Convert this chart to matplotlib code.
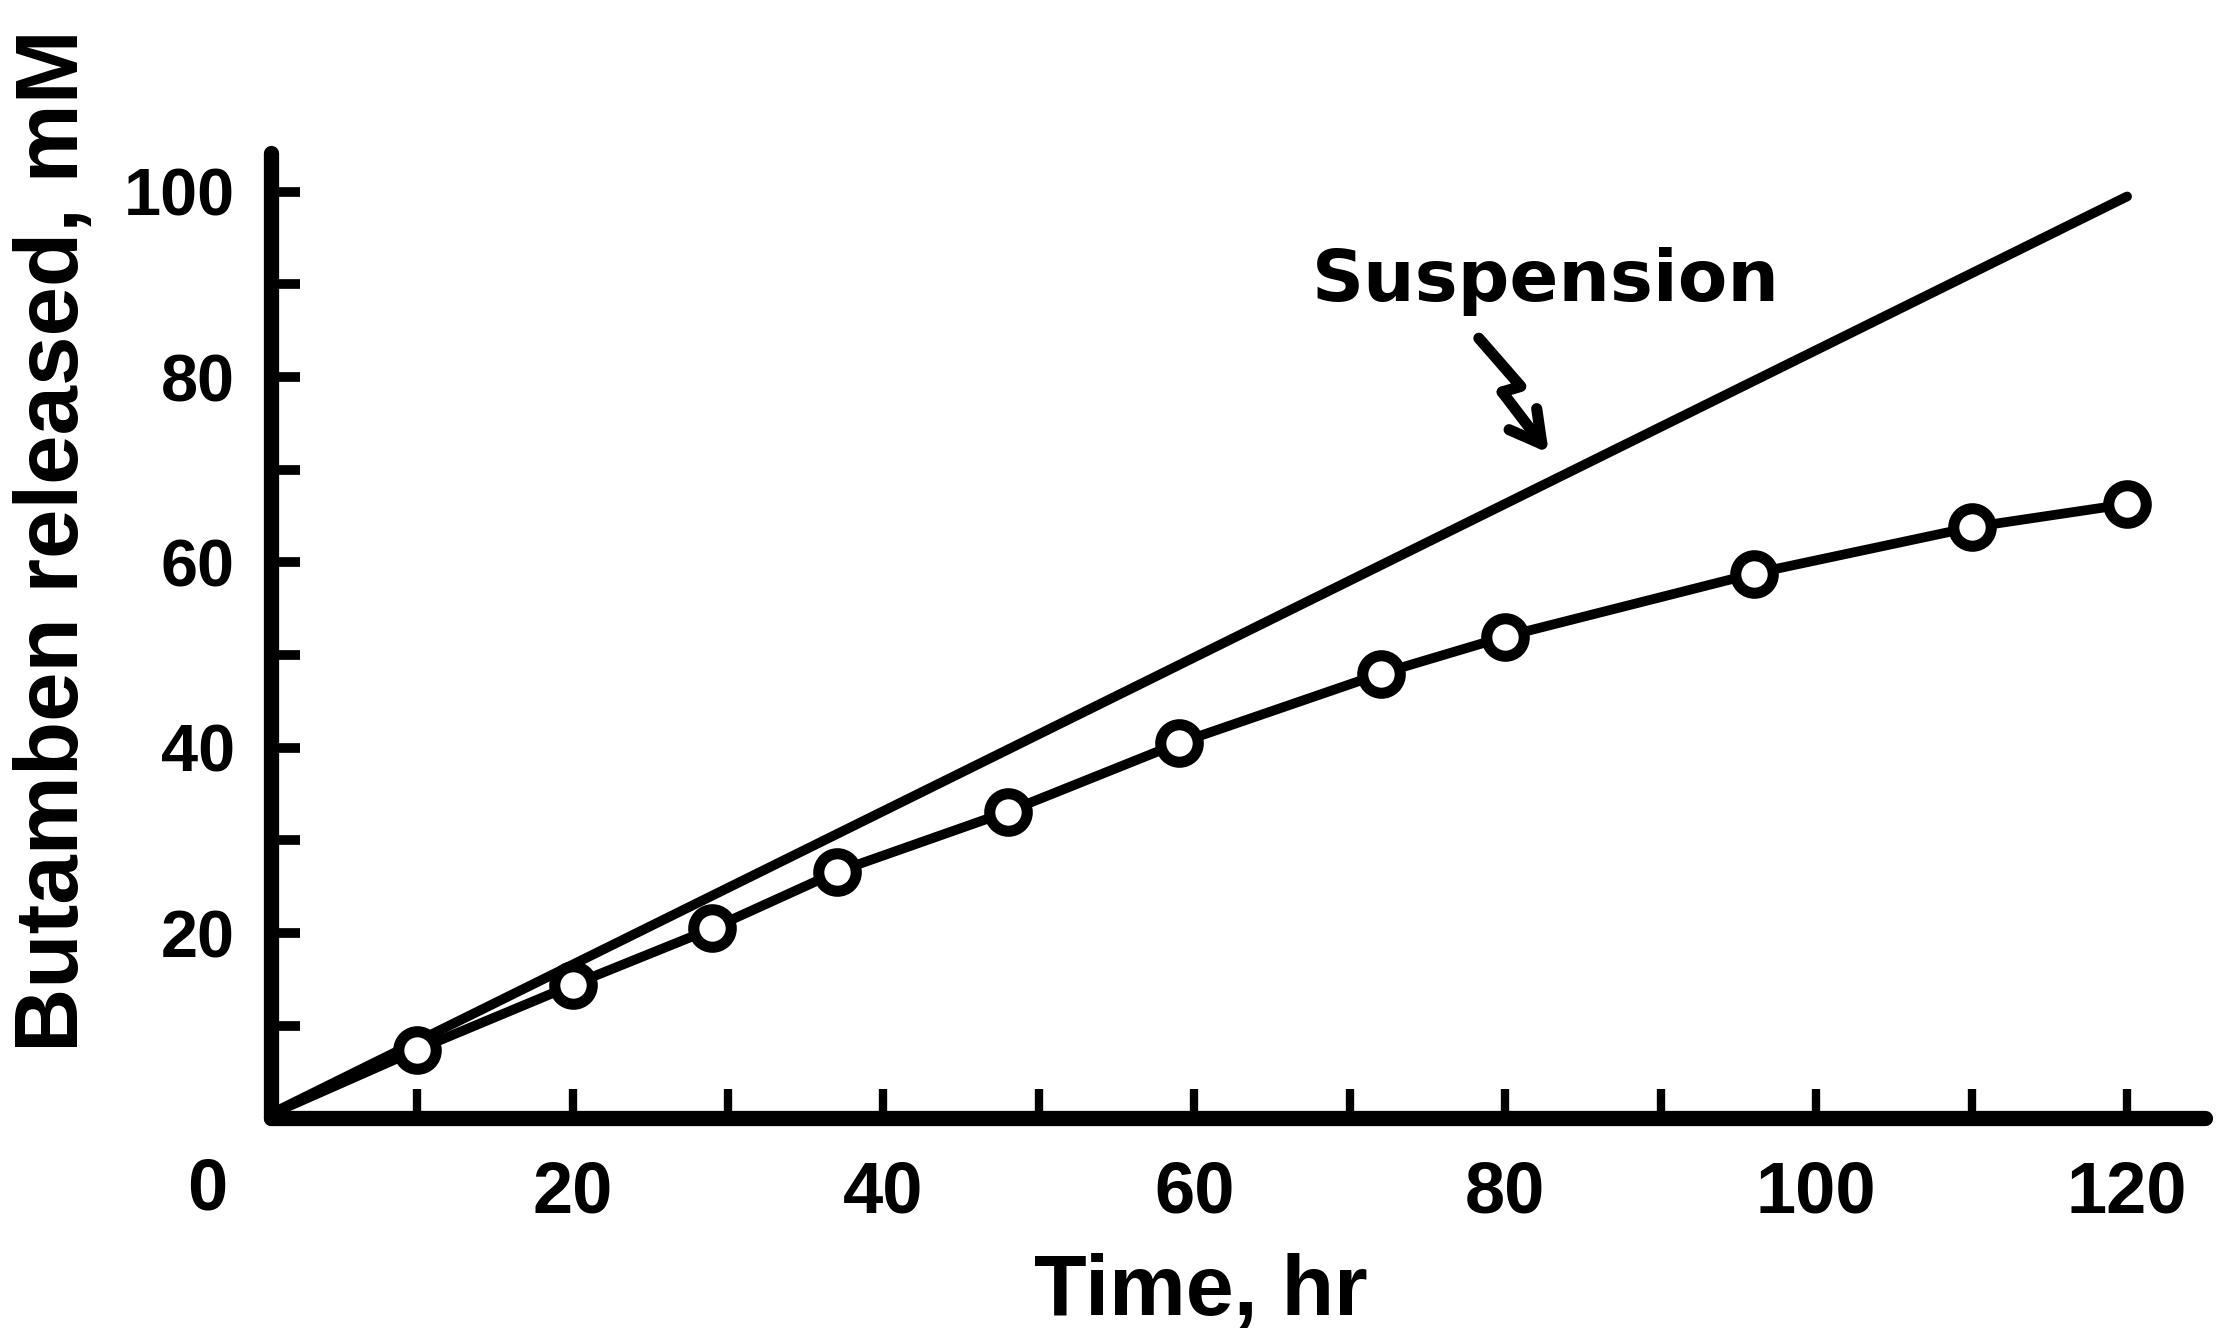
import matplotlib
matplotlib.use("Agg")
import matplotlib.pyplot as plt

plt.rcParams['font.family'] = ['Liberation Sans', 'DejaVu Sans']

# measured release (hr, mM); the curve starts at the origin
time_hr = [0, 10, 20, 29, 37, 48, 59, 72, 80, 96, 110, 120]
released = [0, 7.4, 14.4, 20.5, 26.6, 33.1, 40.5, 48.0, 52.0, 58.8, 63.8, 66.3]

# suspension: straight line
susp_time = [0, 120]
susp_released = [0, 99.5]

x_ticks = [20, 40, 60, 80, 100, 120]
y_ticks = [20, 40, 60, 80, 100]

# zig-zag pointer from the "Suspension" label to its line
arrow_x = [78.3, 81.0, 79.8]
arrow_y = [84.2, 79.0, 78.4]
arrow_tip = (82.8, 71.8)

fig = plt.figure(figsize=(22.28, 13.39), dpi=100)
ax = fig.add_axes([0.1216, 0.1648, 0.868, 0.721])

ax.plot(susp_time, susp_released, color='black', lw=7,
        solid_capstyle='round', zorder=3)
ax.plot(time_hr, released, color='black', lw=7, marker='o',
        markevery=slice(1, None), ms=27, mew=8, mfc='white', mec='black',
        solid_capstyle='round', zorder=4)

# label + pointer
ax.text(82.6, 88.2, 'Suspension', family='DejaVu Sans', fontweight='bold',
        fontsize=52, ha='center', va='baseline')
ax.plot(arrow_x, arrow_y, color='black', lw=8, solid_capstyle='round',
        solid_joinstyle='round')
ax.annotate('', xy=arrow_tip, xytext=(arrow_x[-1], arrow_y[-1]),
            arrowprops=dict(arrowstyle='->,head_length=0.9,head_width=0.5',
                            mutation_scale=25, lw=8, color='black',
                            shrinkA=0, shrinkB=0,
                            capstyle='round', joinstyle='round'))

ax.set_xlim(0.6, 125)
ax.set_ylim(0, 104.2)

for s in ['top', 'right']:
    ax.spines[s].set_visible(False)
for s in ['left', 'bottom']:
    ax.spines[s].set_linewidth(11)
    ax.spines[s].set_capstyle('round')

ax.set_xticks(range(10, 121, 10))
ax.set_xticklabels([str(t) if t in x_ticks else '' for t in range(10, 121, 10)])
ax.set_yticks(range(10, 101, 10))
ax.set_yticklabels([str(t) if t in y_ticks else '' for t in range(10, 101, 10)])

ax.tick_params(axis='x', direction='in', length=21, width=6, pad=30,
               labelsize=52)
ax.tick_params(axis='y', direction='in', length=21, width=7, pad=26,
               labelsize=48)
for lab in ax.get_xticklabels() + ax.get_yticklabels():
    lab.set_fontweight('bold')

# shared origin label
ax.text(-3.5, -7.8, '0', fontsize=52, fontweight='bold',
        ha='center', va='center', clip_on=False)

ax.set_xlabel('Time, hr', fontsize=62, fontweight='bold')
ax.xaxis.set_label_coords(0.481, -0.14)
ax.set_ylabel('Butamben released, mM', fontsize=64, fontweight='bold')
ax.yaxis.set_label_coords(-0.090, 0.598)

fig.savefig('out.png', dpi=100, facecolor='white')
